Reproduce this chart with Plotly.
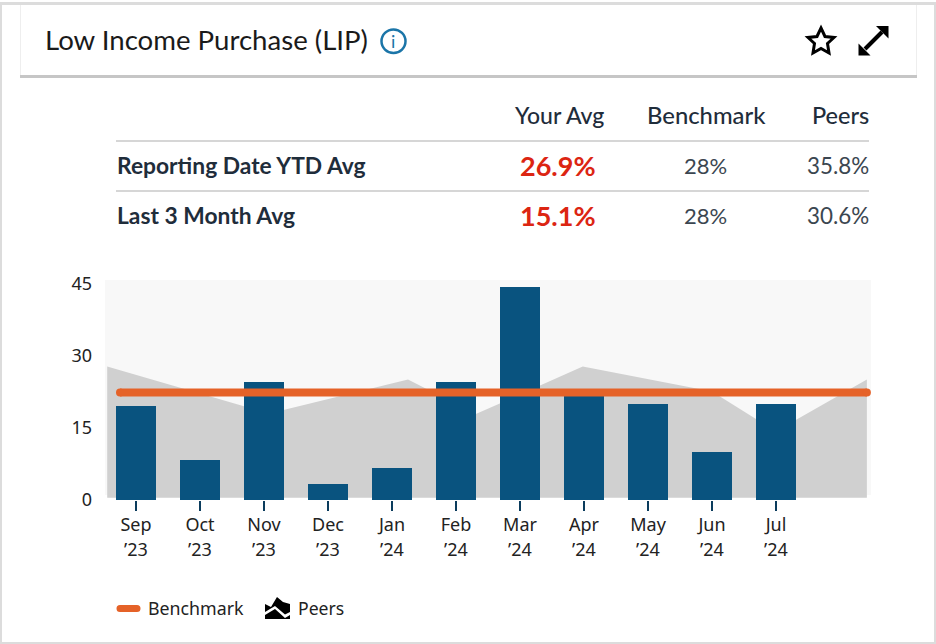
import plotly.graph_objects as go

months = ["Sep", "Oct", "Nov", "Dec", "Jan", "Feb", "Mar", "Apr", "May", "Jun", "Jul"]
years = ["’23", "’23", "’23", "’23", "’24", "’24", "’24", "’24", "’24", "’24", "’24"]
your_avg = [19.6, 8.3, 24.6, 3.3, 6.7, 24.6, 44.4, 22.0, 20.0, 10.0, 20.0]
peers_x = [-0.45, 2.08, 4.25, 5.31, 6.98, 9.0, 10.0, 11.42]
peers_y = [27.8, 18.0, 25.1, 17.9, 27.8, 22.6, 14.3, 25.1]
peers_base = [0.48] * len(peers_x)
bench_x = [-0.25, 11.42]
bench_y = [22.4, 22.4]
y_ticks = [0, 15, 30, 45]
table_cols = ["Your Avg", "Benchmark", "Peers"]
table_rows = ["Reporting Date YTD Avg", "Last 3 Month Avg"]
table_your = ["26.9%", "15.1%"]
table_bench = ["28%", "28%"]
table_peers = ["35.8%", "30.6%"]

W, H = 936, 644
L, R, T, B = 105, 871, 280, 500
BODY = "Lato"
AXIS = "Noto Sans"
NAVY = "#09537f"
ORANGE = "#e56228"
INK = "#1f2d3b"
XR = [(L - 136) / 64, (R - 136) / 64]
YR = [0, 220 / 4.8]


def px(x):
    return (x - L) / (R - L)


def py(y):
    return (B - y) / (B - T)


def path(points, close=True):
    s = " ".join(("M" if i == 0 else "L") + f"{px(a):.5f},{py(b):.5f}" for i, (a, b) in enumerate(points))
    return s + (" Z" if close else "")


fig = go.Figure()
fig.add_trace(go.Scatter(x=peers_x, y=peers_base, mode="lines", line=dict(width=0), hoverinfo="skip", showlegend=False))
fig.add_trace(go.Scatter(x=peers_x, y=peers_y, mode="lines", line=dict(width=0), fill="tonexty",
                         fillcolor="#d0d0d0", name="Peers", showlegend=False))
fig.add_trace(go.Bar(x=list(range(len(months))), y=your_avg, width=40 / 64, marker=dict(color=NAVY, line=dict(width=0)),
                     name="Your Avg", showlegend=False, xaxis="x2", yaxis="y2"))
fig.add_trace(go.Scatter(x=bench_x, y=bench_y, mode="lines+markers", line=dict(color=ORANGE, width=8),
                         marker=dict(color=ORANGE, size=8, line=dict(width=0)), name="Benchmark", showlegend=False,
                         xaxis="x2", yaxis="y2"))

ann = []


def text(x, y, s, size, color=INK, anchor="left", font=BODY, bold=False, weight=None):
    f = dict(family=font, size=size, color=color)
    if weight:
        f["weight"] = weight
    ann.append(dict(xref="paper", yref="paper", x=px(x), y=py(y), text=f"<b>{s}</b>" if bold else s, showarrow=False,
                    xanchor=anchor, yanchor="middle", font=f))


text(43, 39, "Low Income Purchase (LIP)", 27.6, "#1a1a1a")
for name, x, size, anchor in zip(table_cols, [558.5, 706, 871], [23, 23.8, 23.5], ["center", "center", "right"]):
    text(x, 115, name, size, INK, anchor, weight=500)
for i, y in enumerate([165, 215]):
    text(115, y, table_rows[i], 22.8, INK, bold=True)
    text(558, y, table_your[i], 27, "#dc2512", "center", bold=True)
    text(705.5, y, table_bench[i], 22, "#3b4650", "center")
    text(871, y, table_peers[i], 22.4, "#3b4650", "right")
text(393, 41, "i", 18, "#1b75a8", "center")
text(146, 608, "Benchmark", 17.8, "#222222", font=AXIS)
text(296, 608, "Peers", 17.6, "#222222", font=AXIS)
for i, yr in enumerate(years):
    ann.append(dict(xref="x", yref="paper", x=i, y=py(548.5), text=yr, showarrow=False, xanchor="center", yanchor="middle",
                    font=dict(family=AXIS, size=18, color="#222222")))

shapes = []


def rect(x0, y0, x1, y1, color, layer="above"):
    shapes.append(dict(type="rect", xref="paper", yref="paper", x0=px(x0), x1=px(x1), y0=py(y0), y1=py(y1),
                       fillcolor=color, line=dict(width=0), layer=layer))


def dot(cx, cy, r, color):
    shapes.append(dict(type="circle", xref="paper", yref="paper", x0=px(cx - r), x1=px(cx + r), y0=py(cy - r), y1=py(cy + r),
                       fillcolor=color, line=dict(width=0)))


rect(105, 280, 871, 495, "#f8f8f8", "below")
rect(0, 2, 936, 5, "#dcdcdc")
rect(0, 2, 2, 644, "#dcdcdc")
rect(934, 2, 936, 644, "#dcdcdc")
rect(0, 642, 936, 644, "#dcdcdc")
rect(20, 75, 917, 78, "#c6c6c6")
rect(20, 5, 21, 75, "#eeeeee")
rect(916, 5, 917, 75, "#eeeeee")
rect(116, 140, 869, 142, "#d6d6d6")
rect(116, 190, 869, 192, "#d6d6d6")

# info icon
shapes.append(dict(type="circle", xref="paper", yref="paper", x0=px(381.5), x1=px(405.5), y0=py(29.5), y1=py(53),
                   line=dict(color="#1b75a8", width=2.5)))
# star
star = [(821, 28), (825, 36.5), (834, 37.5), (827.5, 43.5), (829, 53), (821, 48.5), (813, 53), (814.5, 43.5), (808, 37.5), (817, 36.5)]
shapes.append(dict(type="path", xref="paper", yref="paper", path=path(star), line=dict(color="#000000", width=3)))
# expand arrow
shapes.append(dict(type="path", xref="paper", yref="paper", path=path([(865, 49), (882, 32)], False),
                   line=dict(color="#000000", width=4)))
shapes.append(dict(type="path", xref="paper", yref="paper", path=path([(876, 26), (888.5, 26), (888.5, 38.5)]),
                   fillcolor="#000000", line=dict(width=0)))
shapes.append(dict(type="path", xref="paper", yref="paper", path=path([(858.5, 43.5), (858.5, 55.5), (870.5, 55.5)]),
                   fillcolor="#000000", line=dict(width=0)))
# legend icons
rect(120, 605, 137, 612, ORANGE)
dot(120, 608.5, 3.5, ORANGE)
dot(137, 608.5, 3.5, ORANGE)
peer_top = [(265, 604), (271, 607), (277, 597), (283, 602), (290, 604), (290, 612), (285, 614.5), (275, 606), (265, 612)]
shapes.append(dict(type="path", xref="paper", yref="paper", path=path(peer_top), fillcolor="#000000", line=dict(width=0)))
peer_bot = [(265, 615), (275, 609), (285, 618), (290, 615), (290, 619), (265, 619)]
shapes.append(dict(type="path", xref="paper", yref="paper", path=path(peer_bot), fillcolor="#000000", line=dict(width=0)))

fig.update_layout(
    width=W, height=H, autosize=False, margin=dict(l=L, r=W - R, t=T, b=H - B, pad=0),
    paper_bgcolor="#ffffff", plot_bgcolor="rgba(0,0,0,0)", showlegend=False, bargap=0,
    annotations=ann, shapes=shapes,
    xaxis=dict(range=XR, tickmode="array", tickvals=list(range(len(months))), ticktext=months,
               ticks="outside", ticklen=10, tickwidth=2, tickcolor="#0b3c5d", showgrid=False, zeroline=False, showline=False,
               ticklabelstandoff=-2, tickfont=dict(family=AXIS, size=18, color="#222222")),
    yaxis=dict(range=YR, tickmode="array", tickvals=y_ticks, showgrid=False, zeroline=False, showline=False,
               ticks="", ticklabelstandoff=12, tickfont=dict(family=AXIS, size=18, color="#222222")),
    xaxis2=dict(range=XR, overlaying="x", visible=False),
    yaxis2=dict(range=YR, overlaying="y", visible=False),
)
fig.write_html("out.html", config=dict(displayModeBar=False),
               post_script="document.body.style.margin='0';document.body.style.overflow='hidden';")
